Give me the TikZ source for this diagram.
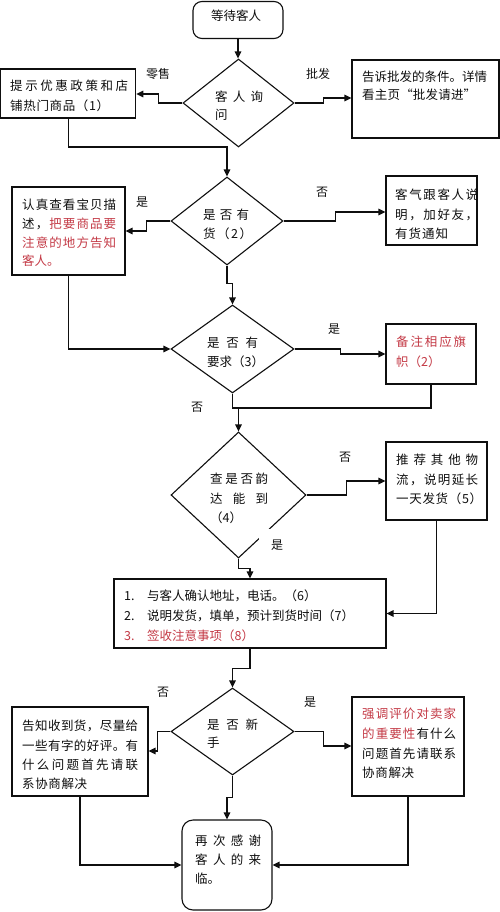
\documentclass[tikz,border=0pt]{standalone}
\usepackage{fontspec}
\setmainfont{Noto Sans CJK SC}
\usetikzlibrary{shapes.geometric,arrows.meta}
\definecolor{myred}{RGB}{196,58,70}
\definecolor{ink}{RGB}{15,15,15}
\ExplSyntaxOn
\NewDocumentCommand\jl{mm}{\makebox[#1pt][s]{\tl_map_inline:nn{#2}{##1\hfill}\unskip}}
\ExplSyntaxOff
\newcommand\rd{\color{myred}\hskip 0pt plus -1fill\relax}
\newcommand\bk{\color{ink}\hskip 0pt plus -1fill\relax}
\newcommand\fs[1]{\fontsize{12.5}{#1}\selectfont}
\tikzset{
  box/.style={draw=ink, line width=1.1pt, rectangle, inner sep=0pt},
  rbox/.style={box, rounded corners=9pt},
  dia/.style={draw=ink, line width=1.1pt, diamond, inner sep=0pt},
  conn/.style={draw=ink, line width=1.4pt},
  arr/.style={conn, -{Triangle[length=7pt,width=6.5pt]}},
  txt/.style={inner sep=0pt, align=left, anchor=north west, text=ink, yshift=-2pt},
  lbl/.style={inner sep=0pt, text=ink, font=\fontsize{12}{14}\selectfont},
}
\begin{document}
\begin{tikzpicture}[x=1pt,y=-1pt]
\useasboundingbox (0,0) rectangle (500,912);
\fill[white] (0,0) rectangle (500,912);

% shapes
\node[rbox, minimum width=90, minimum height=37] (start) at (238,20) {};
\node[dia, minimum width=111, minimum height=88] (d1) at (238.5,103) {};
\node[box, minimum width=135, minimum height=49] (b1) at (68.3,93.5) {};
\node[box, minimum width=147, minimum height=78] (b2) at (425.5,99) {};
\node[dia, minimum width=112, minimum height=88] (d2) at (227,221) {};
\node[box, minimum width=113, minimum height=88] (b3) at (68.5,231) {};
\node[box, minimum width=91, minimum height=69] (b4) at (431.5,210.5) {};
\node[dia, minimum width=123, minimum height=88] (d3) at (232.5,349) {};
\node[box, minimum width=90, minimum height=60] (b5) at (431,354) {};
\node[dia, minimum width=135, minimum height=126] (d4) at (238.5,495) {};
\node[box, minimum width=101, minimum height=78] (b6) at (436.5,481) {};
\node[box, minimum width=272, minimum height=69] (b7) at (250,613.5) {};
\node[dia, minimum width=123, minimum height=87] (d5) at (232.5,731.5) {};
\node[box, minimum width=136, minimum height=89] (b8) at (80,751.5) {};
\node[box, minimum width=112, minimum height=99] (b9) at (408,746.5) {};
\node[rbox, rounded corners=11pt, minimum width=90, minimum height=90] (end) at (227,865) {};

% texts
\node[inner sep=0pt, text=ink, font=\fs{15}] (ts) at (236,16) {等待客人};
\node[txt, font=\fs{18}] (t1) at (215,89) {\jl{48}{客人询}\\问};
\node[txt, font=\fs{20}] (tb1) at (10,78) {\jl{118}{提示优惠政策和店}\\\jl{99}{铺热门商品（1）}};
\node[txt, font=\fs{18}] (tb2) at (362,69) {告诉批发的条件。详情\\\jl{114}{看主页“批发请进”}};
\node[txt, font=\fs{19}] (t2) at (203,207) {\jl{46}{是否有}\\\jl{49}{货（2）}};
\node[txt, font=\fs{18.7}] (tb3) at (22,197) {\jl{94}{认真查看宝贝描}\\\jl{94}{述，\rd 把要商品要}\\\jl{94}{\rd 注意的地方告知}\\{\color{myred}客人。}};
\node[txt, font=\fs{19.5}] (tb4) at (395,187) {\jl{83}{客气跟客人说}\\\jl{83}{明，加好友，}\\\jl{53}{有货通知}};
\node[txt, font=\fs{19}] (t3) at (207,335) {\jl{51}{是否有}\\要求（3）};
\node[txt, font=\fs{20}, text=myred] (tb5) at (396,334) {\jl{70}{备注相应旗}\\帜（2）};
\node[txt, font=\fs{19.5}] (t4) at (210,471) {\jl{58}{查是否韵}\\\jl{58}{达能到}\\（4）};
\node[txt, font=\fs{19.5}] (tb6) at (396,452) {\jl{82}{推荐其他物}\\\jl{82}{流，说明延长}\\\jl{86}{一天发货（5）}};
\node[txt, font=\fs{20}] (tb7) at (124,588) {\makebox[23pt][l]{1.}与客人确认地址，电话。（6）\\\makebox[23pt][l]{2.}说明发货，填单，预计到货时间（7）\\{\color{myred}\makebox[23pt][l]{3.}签收注意事项（8）}};
\node[txt, font=\fs{18}] (t5) at (207,717) {\jl{51}{是否新}\\手};
\node[txt, font=\fs{19.3}] (tb8) at (22,718) {\jl{116}{告知收到货，尽量给}\\\jl{116}{一些有字的好评。有}\\\jl{116}{什么问题首先请联}\\\jl{65}{系协商解决}};
\node[txt, font=\fs{19.7}] (tb9) at (362,706) {\jl{94}{\rd 强调评价对卖家}\\\jl{94}{\rd 的重要性\bk 有什么}\\\jl{94}{问题首先请联系}\\\jl{52}{协商解决}};
\node[txt, font=\fs{19}] (te) at (195,833) {\jl{66}{再次感谢}\\\jl{66}{客人的来}\\临。};

% connectors
\draw[arr] (start.south) -- (start.south |- d1.north);
\draw[arr] (d1.west) -- ++(-24,0) |- (b1.east |- 0,94);
\draw[arr] (d1.east) -- ++(29,0) |- (b2.west |- 0,98);
\draw[arr] (b1.south) |- (d2.north |- 0,147) -- (d2.north);
\draw[arr] (d2.west) -- ++(-24,0) |- (b3.east |- 0,231);
\draw[arr] (d2.east) -- ++(52,0) |- (b4.west |- 0,212);
\draw[arr] (d2.south) -- ++(0,18) -| (d3.north);
\draw[arr] (b3.south) |- (d3.west);
\draw[arr] (d3.east) -- ++(46,0) |- (b5.west |- 0,354);
\coordinate (j1) at (d4.north |- 0,408);
\draw[arr] (d3.south) |- (j1) -- (d4.north);
\draw[conn] (b5.south) |- (j1);
\draw[arr] (d4.east) -- ++(40,0) |- (b6.west |- 0,481);
\draw[arr] (b6.south) |- (b7.east);
\draw[arr] (d4.south) -- ++(0,10) -| (b7.north);
\draw[arr] (b7.south) -- ++(0,20) -| (d5.north);
\draw[arr] (d5.west) -- ++(-13,0) |- (b8.east |- 0,751);
\draw[arr] (d5.east) -- ++(29,0) |- (b9.west |- 0,746);
\draw[arr] (d5.south) -- ++(0,22) -| (end.north);
\draw[arr] (b8.south) |- (end.west);
\draw[arr] (b9.south) |- (end.east);

% labels
\node[lbl] (l1) at (158,74) {零售};
\node[lbl] (l2) at (318,74) {批发};
\node[lbl] (l3) at (142,202) {是};
\node[lbl] (l4) at (322,192) {否};
\node[lbl] (l5) at (334,329) {是};
\node[lbl] (l6) at (197,407) {否};
\node[lbl] (l7) at (345,457) {否};
\node[lbl, fill=white, minimum width=36, minimum height=32] (l8) at (277,545) {是};
\node[lbl] (l9) at (163,692) {否};
\node[lbl] (l10) at (310,702) {是};
\end{tikzpicture}
\end{document}
